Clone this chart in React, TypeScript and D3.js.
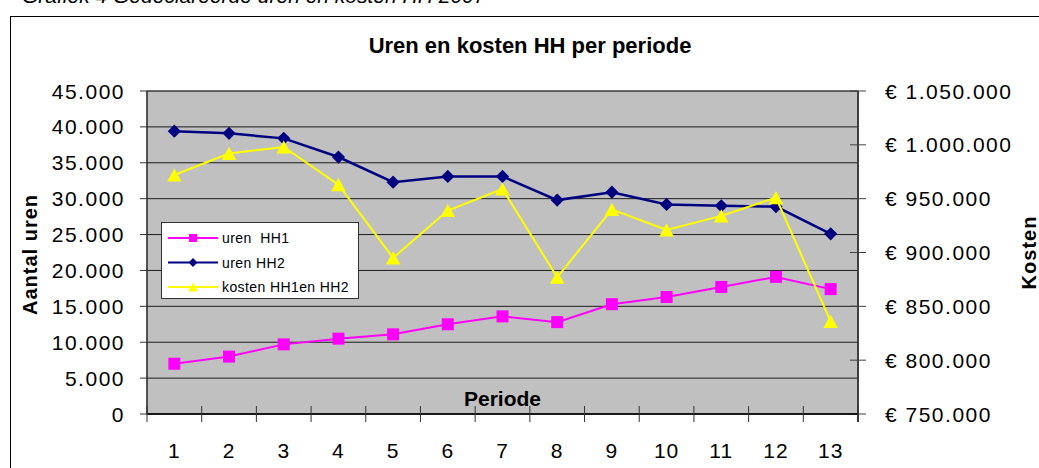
import React from 'react';
import * as d3 from 'd3';

const periods = ['1', '2', '3', '4', '5', '6', '7', '8', '9', '10', '11', '12', '13'];
const urenHH1 = [7000, 8000, 9700, 10500, 11100, 12500, 13600, 12800, 15300, 16300, 17700, 19100, 17400];
const urenHH2 = [39400, 39100, 38400, 35800, 32300, 33100, 33100, 29800, 30900, 29200, 29000, 28900, 25100];
const kosten = [972000, 992000, 998000, 963000, 895000, 939000, 959000, 877000, 940000, 921000, 934000, 951000, 836000];
const urenTicks = [0, 5000, 10000, 15000, 20000, 25000, 30000, 35000, 40000, 45000];
const kostenTicks = [750000, 800000, 850000, 900000, 950000, 1000000, 1050000];

const legendItems = [
  { label: 'uren  HH1', color: '#FF00FF', marker: 'square' },
  { label: 'uren HH2', color: '#000080', marker: 'diamond' },
  { label: 'kosten HH1en HH2', color: '#FFFF00', marker: 'triangle' },
];

const nl = d3.formatLocale({ decimal: ',', thousands: '.', grouping: [3], currency: ['€ ', ''] });
const fmt = nl.format(',.0f');

const FONT = '"Liberation Sans", Arial, sans-serif';

const left = 147;
const right = 858;
const top = 91;
const bottom = 414;

const Marker = ({ type, x, y, color, s }: any) => {
  if (type === 'square')
    return <rect x={x - s / 2} y={y - s / 2} width={s} height={s} fill={color} />;
  if (type === 'diamond') {
    const h = s * 0.55;
    return <path d={`M${x},${y - h}L${x + h},${y}L${x},${y + h}L${x - h},${y}Z`} fill={color} />;
  }
  const h = s * 0.55;
  return <path d={`M${x},${y - h}L${x + h * 1.1},${y + h}L${x - h * 1.1},${y + h}Z`} fill={color} />;
};

export default function App() {
  const x = d3.scaleBand().domain(periods).range([left, right]);
  const yL = d3.scaleLinear().domain([0, 45000]).range([bottom, top]);
  const yR = d3.scaleLinear().domain([750000, 1050000]).range([bottom, top]);
  const cx = (p: string) => (x(p) as number) + x.bandwidth() / 2;

  const lineL = d3
    .line<number>()
    .x((_, i) => cx(periods[i]))
    .y((d) => yL(d));
  const lineR = d3
    .line<number>()
    .x((_, i) => cx(periods[i]))
    .y((d) => yR(d));

  const series = [
    { data: urenHH1, line: lineL, y: yL, color: '#FF00FF', width: 2, marker: 'square', size: 12 },
    { data: urenHH2, line: lineL, y: yL, color: '#000080', width: 2.5, marker: 'diamond', size: 12 },
    { data: kosten, line: lineR, y: yR, color: '#FFFF00', width: 2, marker: 'triangle', size: 12 },
  ];

  const boundaries = d3.range(periods.length + 1).map((i) => left + i * x.bandwidth());

  return (
    <svg
      width={1039}
      height={468}
      style={{ position: 'absolute', left: 0, top: 0, background: '#fff' }}
      fontFamily={FONT}
    >
      <text x={22} y={3} fontSize={21} fontStyle="italic" fill="#000">
        Grafiek 4 Gedeclareerde uren en kosten HH 2007
      </text>
      <rect x={10.5} y={16.5} width={1100} height={500} fill="#fff" stroke="#000" />

      <text x={530} y={53} fontSize={22} fontWeight="bold" textAnchor="middle">
        Uren en kosten HH per periode
      </text>

      {/* plot area */}
      <rect x={left} y={top} width={right - left} height={bottom - top} fill="#C0C0C0" stroke="#808080" />
      {urenTicks.map((t) => (
        <line key={'g' + t} x1={left} x2={right} y1={yL(t)} y2={yL(t)} stroke="#000" strokeWidth={1} opacity={0.85} />
      ))}

      {/* left axis */}
      <line x1={left} x2={left} y1={top} y2={bottom} stroke="#333" strokeWidth={1.5} />
      {urenTicks.map((t) => (
        <g key={'l' + t}>
          <line x1={left - 7} x2={left} y1={yL(t)} y2={yL(t)} stroke="#333" />
          <text x={125} y={yL(t)} dy="0.36em" fontSize={21} letterSpacing={1.5} textAnchor="end">
            {fmt(t)}
          </text>
        </g>
      ))}
      <text
        transform={`translate(37,${(top + bottom) / 2 + 2}) rotate(-90)`}
        fontSize={20}
        fontWeight="bold"
        letterSpacing={1}
        textAnchor="middle"
      >
        Aantal uren
      </text>

      {/* right axis */}
      <line x1={right} x2={right} y1={top} y2={bottom + 8} stroke="#404040" strokeWidth={2} />
      {kostenTicks.map((t) => (
        <g key={'r' + t}>
          <line x1={right - 8} x2={right + 8} y1={yR(t)} y2={yR(t)} stroke="#404040" />
          <text x={885} y={yR(t)} dy="0.36em" fontSize={21} letterSpacing={1.5}>
            {'€ ' + fmt(t)}
          </text>
        </g>
      ))}
      <text
        transform={`translate(1036,${(top + bottom) / 2}) rotate(-90)`}
        fontSize={20}
        fontWeight="bold"
        letterSpacing={1}
        textAnchor="middle"
      >
        Kosten
      </text>

      {/* x axis */}
      <line x1={left} x2={right} y1={bottom} y2={bottom} stroke="#000" strokeWidth={1.5} />
      {boundaries.map((b, i) => (
        <line key={'xt' + i} x1={b} x2={b} y1={bottom - 8} y2={bottom + 8} stroke="#333" />
      ))}
      {periods.map((p) => (
        <text key={'xl' + p} x={cx(p)} y={458} fontSize={21} letterSpacing={1} textAnchor="middle">
          {p}
        </text>
      ))}
      <text x={(left + right) / 2} y={406} fontSize={21} fontWeight="bold" textAnchor="middle">
        Periode
      </text>

      {/* series */}
      {series.map((s, k) => (
        <g key={'s' + k}>
          <path d={s.line(s.data) as string} fill="none" stroke={s.color} strokeWidth={s.width} />
          {s.data.map((v, i) => (
            <Marker key={i} type={s.marker} x={cx(periods[i])} y={s.y(v)} color={s.color} s={s.size} />
          ))}
        </g>
      ))}

      {/* legend */}
      <rect x={161.5} y={222.5} width={197} height={76} fill="#fff" stroke="#333" />
      {legendItems.map((it, i) => {
        const ly = 238 + i * 24.5;
        return (
          <g key={'lg' + i}>
            <line x1={168} x2={218} y1={ly} y2={ly} stroke={it.color} strokeWidth={2} />
            <Marker type={it.marker} x={193} y={ly} color={it.color} s={8} />
            <text x={222} y={ly} dy="0.36em" fontSize={14} letterSpacing={0.4} style={{ whiteSpace: 'pre' }}>
              {it.label}
            </text>
          </g>
        );
      })}
    </svg>
  );
}
